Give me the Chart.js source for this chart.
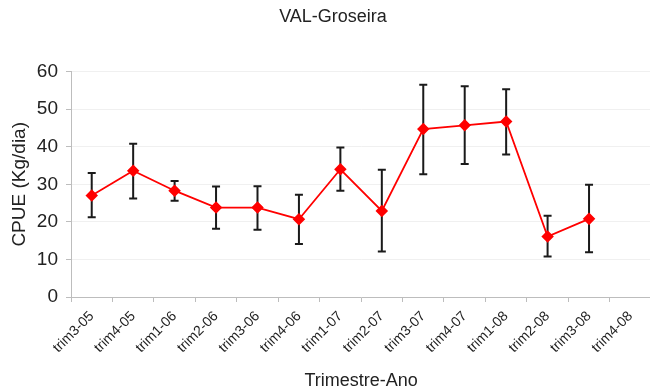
<!DOCTYPE html>
<html>
<head>
<meta charset="utf-8">
<title>VAL-Groseira</title>
<script src="https://cdn.jsdelivr.net/npm/chart.js@4"></script>
<style>
    body { margin: 0; background: #fff; overflow: hidden; }
    #wrap { width: 650px; height: 392px; overflow: hidden; }
</style>
</head>
<body>
<div id="wrap"><canvas id="cpueChart" width="658" height="392"></canvas></div>
<script>
// VAL-Groseira CPUE per trimestre

const trimestres = ['trim3-05', 'trim4-05', 'trim1-06', 'trim2-06', 'trim3-06', 'trim4-06', 'trim1-07',
    'trim2-07', 'trim3-07', 'trim4-07', 'trim1-08', 'trim2-08', 'trim3-08', 'trim4-08'];
const cpue = [27.0, 33.6, 28.3, 23.8, 23.8, 20.7, 34.0, 22.9, 44.7, 45.7, 46.7, 16.1, 20.8];
const cpueMax = [33.0, 40.8, 30.9, 29.4, 29.5, 27.2, 39.8, 33.9, 56.5, 56.1, 55.3, 21.6, 29.9];
const cpueMin = [21.2, 26.2, 25.6, 18.2, 17.9, 14.1, 28.3, 12.1, 32.7, 35.4, 37.9, 10.8, 11.9];
const yTicks = [0, 10, 20, 30, 40, 50, 60];

// draws the black error bars under the red line
const errorBars = {
    id: 'errorBars',
    beforeDatasetsDraw(chart) {
        const ctx = chart.ctx;
        const x = chart.scales.x;
        const y = chart.scales.y;
        ctx.save();
        ctx.strokeStyle = '#1a1a1a';
        ctx.lineWidth = 2;
        for (let i = 0; i < cpue.length; i++) {
            const px = x.getPixelForValue(i);
            const top = y.getPixelForValue(cpueMax[i]);
            const bot = y.getPixelForValue(cpueMin[i]);
            ctx.beginPath();
            ctx.moveTo(px, top);
            ctx.lineTo(px, bot);
            ctx.moveTo(px - 4, top);
            ctx.lineTo(px + 4, top);
            ctx.moveTo(px - 4, bot);
            ctx.lineTo(px + 4, bot);
            ctx.stroke();
        }
        ctx.restore();
    }
};

Chart.defaults.font.family = '"Liberation Sans", Arial, sans-serif';
Chart.defaults.color = '#222';

new Chart(document.getElementById('cpueChart'), {
    type: 'line',
    data: {
        labels: trimestres,
        datasets: [{
            data: cpue,
            borderColor: '#ff0000',
            backgroundColor: '#ff0000',
            borderWidth: 1.8,
            pointStyle: 'rectRot',
            pointRadius: 5,
            tension: 0
        }]
    },
    options: {
        responsive: false,
        animation: false,
        layout: { padding: { left: 8, right: 0, top: 0, bottom: 0 } },
        plugins: {
            legend: { display: false },
            tooltip: { enabled: false },
            title: {
                display: true,
                text: 'VAL-Groseira',
                font: { size: 18, weight: 'normal' },
                padding: { top: 6, bottom: 44 }
            }
        },
        scales: {
            x: {
                offset: true,
                afterFit(scale) { scale.height = 95; },
                grid: { offset: true, drawOnChartArea: false, tickLength: 5, color: '#bdbdbd' },
                border: { color: '#bdbdbd' },
                ticks: { maxRotation: 45, minRotation: 45, autoSkip: false, font: { size: 14 }, padding: 6 },
                title: { display: true, text: 'Trimestre-Ano', font: { size: 18 }, padding: { top: 4, bottom: 0 } }
            },
            y: {
                min: 0,
                max: 60,
                afterFit(scale) { scale.width = 63; },
                afterBuildTicks(scale) {
                    scale.ticks = yTicks.map(v => ({ value: v }));
                },
                grid: { color: '#f0f0f0', tickLength: 5, tickColor: '#bdbdbd' },
                border: { color: '#bdbdbd' },
                ticks: { font: { size: 19 }, padding: 8 },
                title: { display: true, text: 'CPUE (Kg/dia)', font: { size: 19 }, padding: { top: 0, bottom: 0 } }
            }
        }
    },
    plugins: [errorBars]
});
</script>
</body>
</html>
